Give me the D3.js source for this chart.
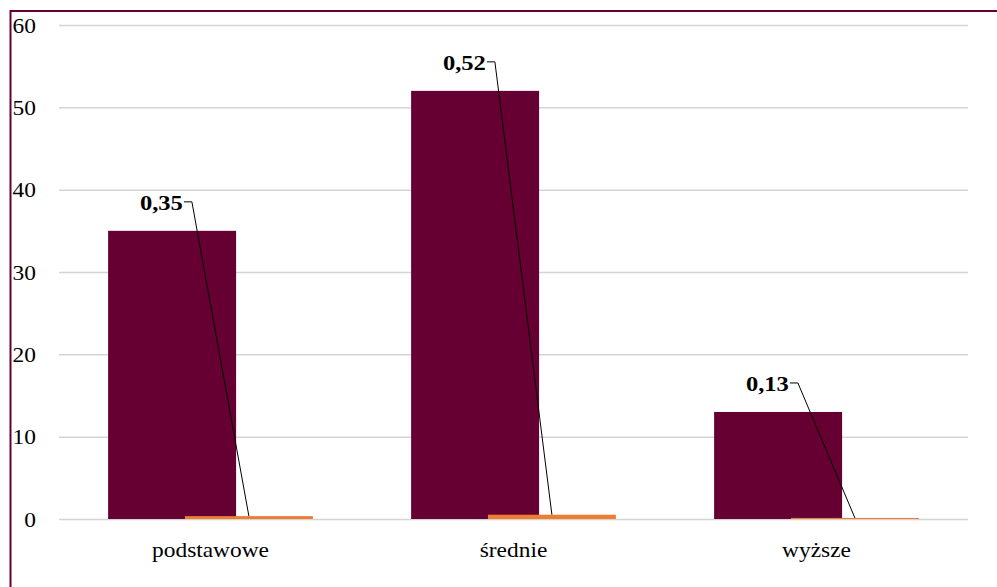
<!DOCTYPE html>
<html><head><meta charset="utf-8">
<script src="https://cdn.jsdelivr.net/npm/d3@7"></script>
<style>body{margin:0;background:#fff;} svg{display:block;}</style>
</head><body>
<script>
const categories = ["podstawowe", "średnie", "wyższe"];
const seriesMain = [35, 52, 13];
const seriesShare = [0.35, 0.52, 0.13];
const shareLabels = ["0,35", "0,52", "0,13"];
const yTicks = [0, 10, 20, 30, 40, 50, 60];

const W = 997, H = 587;
const svg = d3.select("body").append("svg").attr("width", W).attr("height", H);

svg.append("rect").attr("x", 10.5).attr("y", 11).attr("width", 1100).attr("height", 700)
  .attr("fill", "#fff").attr("stroke", "#660033").attr("stroke-width", 2);

const y = d3.scaleLinear().domain([0, 60]).range([519, 25]);
const x = d3.scaleBand().domain(categories).range([59, 968]).padding(0);
const barW = x.bandwidth() * 0.4224;
const off = barW * 0.6;
const groupW = barW + off;
const fontSerif = "'Liberation Serif','Times New Roman',serif";
const sx = 1.17;

// gridlines
const yAxis = d3.axisLeft(y).tickValues(yTicks).tickSize(-(968 - 59)).tickFormat(d => d);
const gAxis = svg.append("g").attr("transform", "translate(59,0)").call(yAxis);
gAxis.select(".domain").remove();
gAxis.selectAll(".tick line").attr("stroke", "#d4d4d4").attr("stroke-width", 1.5);
gAxis.selectAll(".tick text").remove();
gAxis.selectAll(".tick").each(function(d) {
  d3.select(this).append("text")
    .attr("text-anchor", "end")
    .attr("transform", `translate(${36 - 59},7) scale(${sx},1)`)
    .attr("fill", "#000")
    .style("font-family", fontSerif).style("font-size", "20px")
    .text(d);
});

const cx = c => x(c) + x.bandwidth() / 2;

// main bars
svg.append("g").selectAll("rect").data(categories).join("rect")
  .attr("x", c => cx(c) - groupW / 2)
  .attr("y", (c, i) => y(seriesMain[i]))
  .attr("width", barW)
  .attr("height", (c, i) => y(0) - y(seriesMain[i]))
  .attr("fill", "#660033");

// share bars
svg.append("g").selectAll("rect").data(categories).join("rect")
  .attr("x", c => cx(c) - groupW / 2 + off)
  .attr("y", (c, i) => y(seriesShare[i]))
  .attr("width", barW)
  .attr("height", (c, i) => y(0) - y(seriesShare[i]))
  .attr("fill", "#ED7D31");

// labels with leader lines
categories.forEach((c, i) => {
  const ocx = cx(c) - groupW / 2 + off + barW / 2;
  const lx = ocx - 66;
  const ly = y(seriesMain[i]) - 29;
  svg.append("path")
    .attr("d", `M${lx + 1},${ly} L${lx + 9},${ly} L${ocx},${y(seriesShare[i])}`)
    .attr("fill", "none").attr("stroke", "#000").attr("stroke-width", 1);
  svg.append("text")
    .attr("text-anchor", "end")
    .attr("transform", `translate(${lx},${ly + 8}) scale(${sx},1)`)
    .style("font-family", fontSerif).style("font-size", "21px").style("font-weight", "bold")
    .text(shareLabels[i]);
});

// category labels
svg.append("g").selectAll("text").data(categories).join("text")
  .attr("text-anchor", "middle")
  .attr("transform", c => `translate(${cx(c)},557) scale(${sx},1)`)
  .style("font-family", fontSerif).style("font-size", "20px")
  .text(c => c);
</script>
</body></html>
